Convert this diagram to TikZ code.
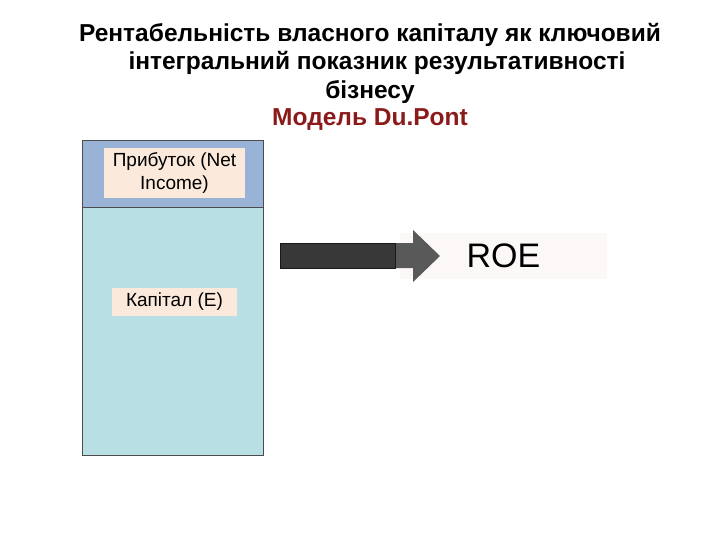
\documentclass[tikz,border=0pt]{standalone}
\usepackage{fontspec}
\setmainfont{Liberation Sans}
\begin{document}
\begin{tikzpicture}[x=1pt,y=-1pt,
  lbl/.style={fill=labelfill,inner sep=0pt,align=center,font=\fontsize{19}{22}\selectfont},
  ttl/.style={font=\bfseries\fontsize{24.5}{28}\selectfont,align=center}]
\definecolor{topblue}{HTML}{98B3D6}
\definecolor{lowblue}{HTML}{B8DFE3}
\definecolor{labelfill}{HTML}{FBE9DB}
\definecolor{darkred}{HTML}{8B1A1A}
\useasboundingbox (0,0) rectangle (720,540);
\node[ttl] (t1) at (370,35) {Рентабельність власного капіталу як ключовий};
\node[ttl] (t2) at (377,63) {інтегральний показник результативності};
\node[ttl] (t3) at (370,92) {бізнесу};
\node[ttl,text=darkred] (t4) at (370,120) {Модель Du.Pont};
\fill[topblue] (82,140) rectangle (263,207);
\fill[lowblue] (82,207) rectangle (263,455);
\draw[black!70,line width=0.8pt] (82,140) rectangle (263,455);
\draw[black!70,line width=0.8pt] (82,207) -- (263,207);
\node[lbl,minimum width=141pt,minimum height=50pt] (ni) at (174.5,173) {Прибуток (Net\\Income)};
\node[lbl,minimum width=125pt,minimum height=28pt] (cap) at (174.5,302) {Капітал (E)};
\node[fill={rgb,255:red,253;green,248;blue,248},minimum width=207pt,minimum height=46pt,inner sep=0pt,
  font=\fontsize{34}{36}\selectfont] (roe) at (503.5,256) {ROE};
\fill[black!65] (395,243) -- (413,243) -- (413,230) -- (440,256) -- (413,282) -- (413,268) -- (395,268) -- cycle;
\fill[black!78] (280,243) rectangle (395,268);
\draw[black!90,line width=0.4pt] (280,243) rectangle (395,268);
\end{tikzpicture}
\end{document}
